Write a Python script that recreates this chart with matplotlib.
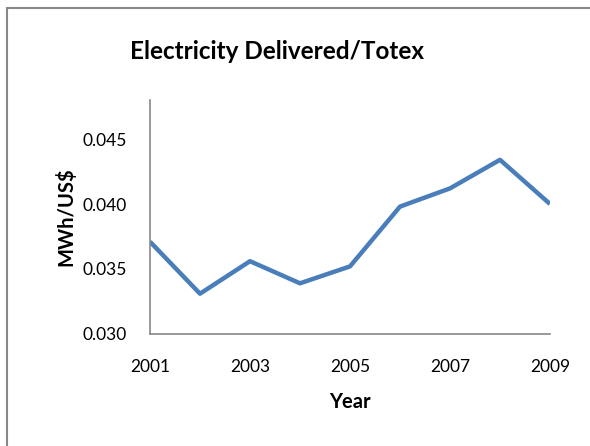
import matplotlib
matplotlib.use('Agg')
import matplotlib.pyplot as plt
from matplotlib.patches import Rectangle

anos = [2001, 2002, 2003, 2004, 2005, 2006, 2007, 2008, 2009]
valores = [0.0371, 0.0331, 0.0356, 0.0339, 0.0352, 0.0398, 0.0412, 0.0434, 0.0400]
ticks_y = [0.030, 0.035, 0.040, 0.045]
ticks_x = [2001, 2003, 2005, 2007, 2009]

plt.rcParams['font.family'] = ['Lato', 'DejaVu Sans']

fig = plt.figure(figsize=(5.9, 4.46), dpi=100)
ax = fig.add_axes([150/590, 112/446, 400/590, 234/446])

ax.plot(anos, valores, color='#4A7EBB', linewidth=3.2, solid_capstyle='butt')
ax.set_xlim(2001, 2009)
ax.set_ylim(0.030, 0.048)
ax.set_yticks(ticks_y)
ax.set_yticklabels([f'{v:.3f}' for v in ticks_y])
ax.set_xticks(ticks_x)
ax.tick_params(length=0, labelsize=12.5)
ax.tick_params(axis='y', pad=17)
ax.tick_params(axis='x', pad=18)

for lado in ['top', 'right']:
    ax.spines[lado].set_visible(False)
for lado in ['left', 'bottom']:
    ax.spines[lado].set_color('#888888')
    ax.spines[lado].set_linewidth(1.2)

ax.set_xlabel('Year', fontsize=14.5, fontweight='bold', labelpad=12)
ax.set_ylabel('MWh/US$', fontsize=14.5, fontweight='bold', labelpad=4)
fig.text(0.47, 0.885, 'Electricity Delivered/Totex', fontsize=17.5, fontweight='bold',
         ha='center', va='center')

# moldura cinza (parcialmente cortada, como no original)
fig.patches.append(Rectangle((7/590, -0.1), 1.2, 1.1 - 8/446, transform=fig.transFigure,
                             fill=False, edgecolor='#888888', linewidth=1.5))

fig.savefig('out.png', dpi=100)
